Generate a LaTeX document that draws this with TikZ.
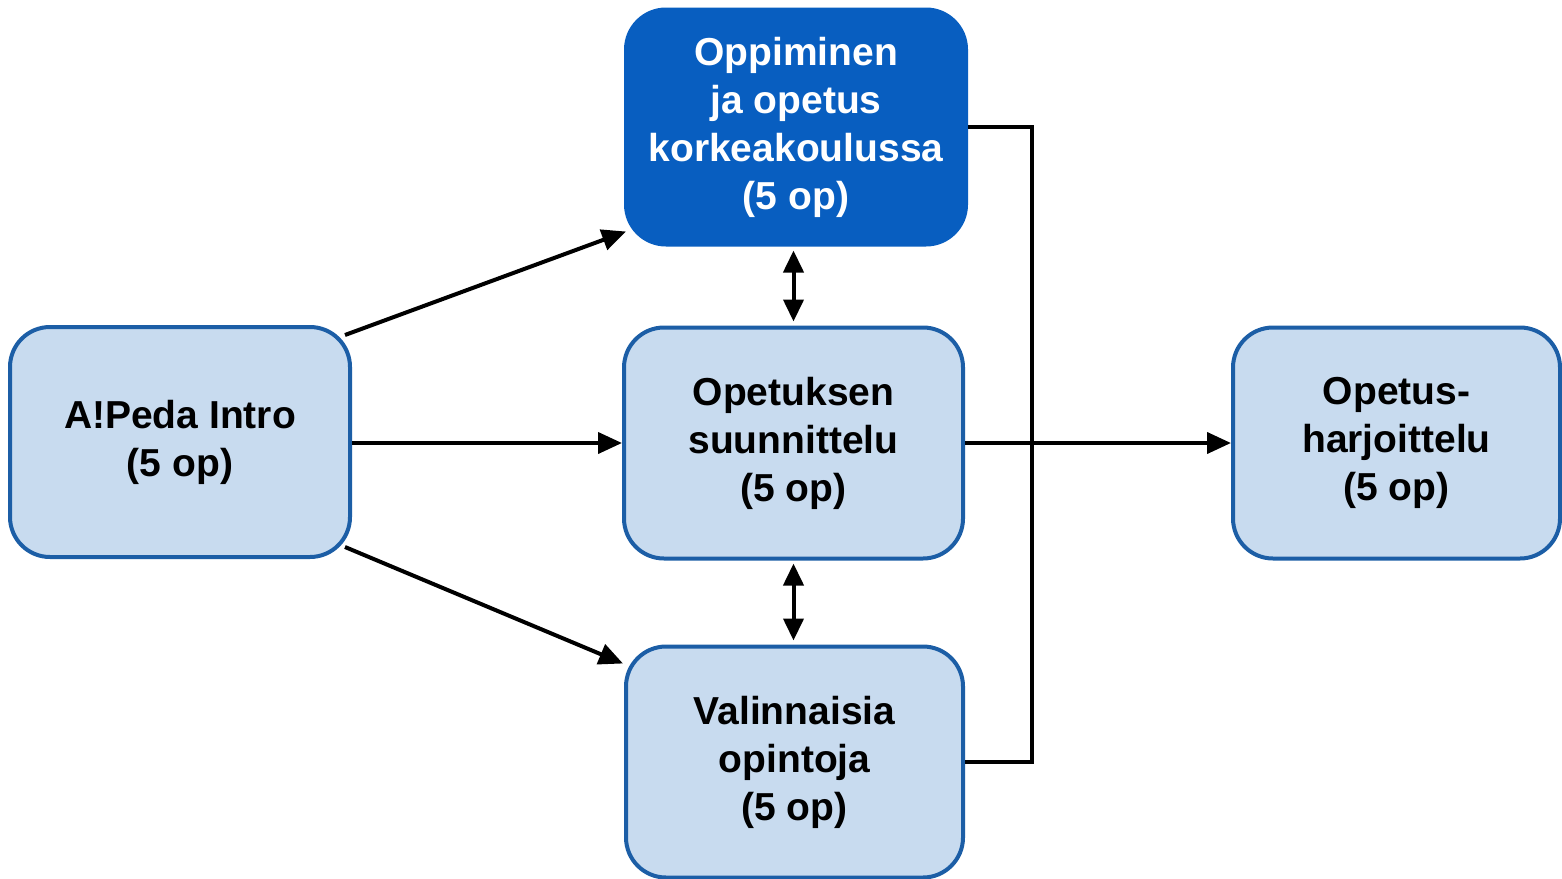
\documentclass[tikz,border=0pt]{standalone}
\usepackage{fontspec}
\setmainfont{Liberation Sans}
\usetikzlibrary{arrows.meta,calc}
\definecolor{lightbox}{RGB}{200,219,239}
\definecolor{boxline}{RGB}{28,94,166}
\definecolor{darkbox}{RGB}{8,94,192}
\tikzset{
  x=0.5pt, y=-0.5pt,
  course/.style={draw=boxline, line width=2pt, fill=lightbox, rounded corners=20pt,
    inner sep=0pt, align=center, text=black,
    font=\fontsize{19.5}{24}\selectfont\bfseries},
  coursedark/.style={course, fill=darkbox, draw=darkbox, text=white},
  conn/.style={line width=2pt, draw=black},
  arr/.style={conn, -{Triangle[length=12pt,width=10.5pt]}},
  darr/.style={conn, {Triangle[length=11pt,width=10pt]}-{Triangle[length=11pt,width=10pt]}}
}
\begin{document}
\begin{tikzpicture}
\useasboundingbox[fill=white] (0,0) rectangle (1562,878);
\node[course, minimum width=170pt, minimum height=115pt] (intro) at (180,442) {A!Peda Intro\\(5 op)};
\node[coursedark, minimum width=170pt, minimum height=117.5pt] (opp) at (796,127) {Oppiminen\\ja opetus\\korkeakoulussa\\(5 op)};
\node[course, minimum width=169.5pt, minimum height=115.5pt] (suun) at (793.5,443) {Opetuksen\\suunnittelu\\(5 op)};
\node[course, minimum width=168.5pt, minimum height=115.5pt] (val) at (794.5,762) {Valinnaisia\\opintoja\\(5 op)};
\node[course, minimum width=163.5pt, minimum height=115.5pt] (harj) at (1396.5,443) {Opetus-\\harjoittelu\\(5 op)};
\coordinate (bus) at (1032,443);
\draw[arr] ([shift={(-7,10)}]intro.north east) -- ([shift={(2,-15)}]opp.south west);
\draw[arr] (intro.east |- suun.west) -- (suun.west);
\draw[arr] ([shift={(-7,-12)}]intro.south east) -- ([shift={(-1,19)}]val.north west);
\draw[darr, shorten <=2pt, shorten >=2pt] (opp.south -| suun.north) -- (suun.north);
\draw[darr, shorten <=1.5pt, shorten >=2pt] (suun.south) -- (suun.south |- val.north);
\draw[conn] (opp.east) -- (opp.east -| bus) -- (val.east -| bus) -- (val.east);
\draw[arr] (suun.east) -- (harj.west);
\end{tikzpicture}
\end{document}
